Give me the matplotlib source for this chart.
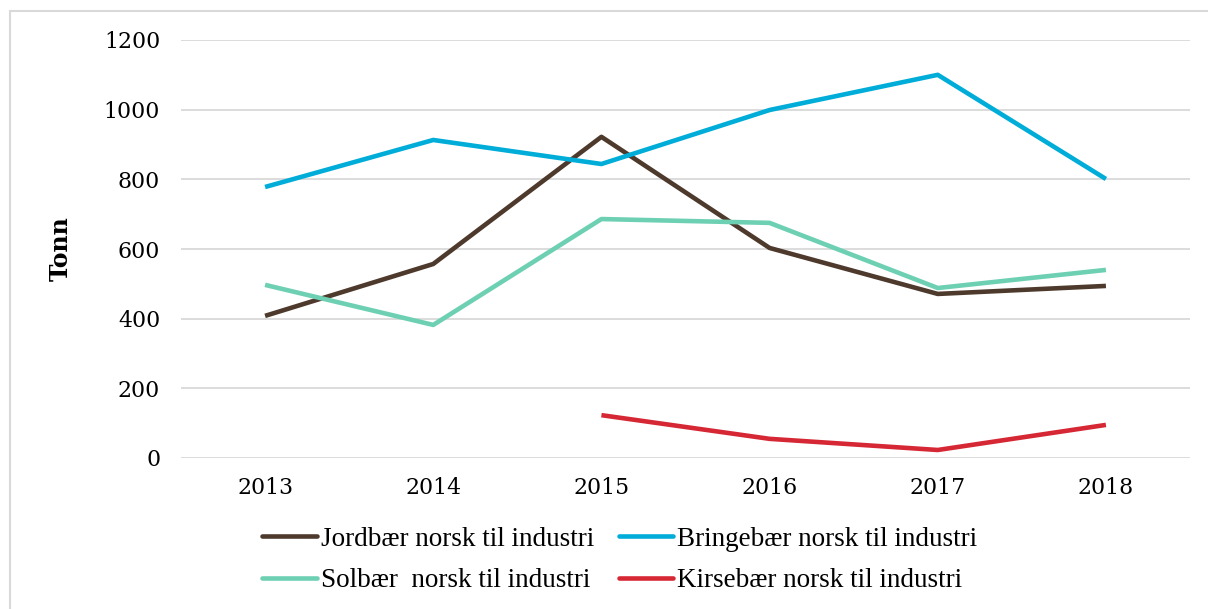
import matplotlib
matplotlib.use("Agg")
import matplotlib.pyplot as plt
from matplotlib.lines import Line2D
import numpy as np

years = ["2013", "2014", "2015", "2016", "2017", "2018"]
jordbaer = [408, 557, 922, 603, 471, 494]
bringebaer = [778, 913, 844, 999, 1100, 801]
solbaer = [497, 382, 686, 675, 488, 540]
kirsebaer = [np.nan, np.nan, 123, 55, 23, 95]

labels = ["Jordbær norsk til industri", "Bringebær norsk til industri",
          "Solbær  norsk til industri", "Kirsebær norsk til industri"]
colors = ["#4E3A2C", "#00ADD8", "#6ED0B2", "#D62734"]
yticks = [0, 200, 400, 600, 800, 1000, 1200]

fig = plt.figure(figsize=(12.08, 6.09), dpi=100)
ax = fig.add_axes([181/1208, 1 - 458/609, (1190-181)/1208, (458-40)/609])

x = np.arange(len(years))
series = [jordbaer, bringebaer, solbaer, kirsebaer]
for vals, c, lab in zip(series, colors, labels):
    ax.plot(x, vals, color=c, lw=3.3, label=lab, solid_capstyle="butt", zorder=3)

ax.set_xlim(-0.5, len(years) - 0.5)
ax.set_ylim(0, 1200)
ax.set_yticks(yticks)
ax.set_yticklabels([str(v) for v in yticks], family="DejaVu Serif", fontsize=15.8)
ax.set_xticks(x)
ax.set_xticklabels(years, family="DejaVu Serif", fontsize=15.8)
ax.grid(axis="y", color="#D9D9D9", lw=1.3, zorder=0)
for s in ["top", "right", "left", "bottom"]:
    ax.spines[s].set_visible(False)
ax.tick_params(axis="both", length=0)
ax.tick_params(axis="y", pad=15)
ax.tick_params(axis="x", pad=14)
ax.set_ylabel("Tonn", family="DejaVu Serif", fontweight="bold", fontsize=17, labelpad=22)

handles = [Line2D([0], [0], color=c, lw=3.3, solid_capstyle="round") for c in colors]
order = [0, 2, 1, 3]
leg = fig.legend([handles[i] for i in order], [labels[i] for i in order], ncol=2,
                 loc="center", bbox_to_anchor=(620/1208, 1 - 560/609), frameon=False,
                 prop={"family": "Liberation Serif", "size": 19.5},
                 handlelength=2.0, handletextpad=0.15, columnspacing=0.93,
                 labelspacing=0.62)

# outer border
fig.patches.append(plt.Rectangle((10/1208, -0.1), 1.2, 1 - 11/609 + 0.1,
                                 transform=fig.transFigure, fill=False,
                                 edgecolor="#D9D9D9", lw=1.5))

fig.savefig("out.png", dpi=100)
